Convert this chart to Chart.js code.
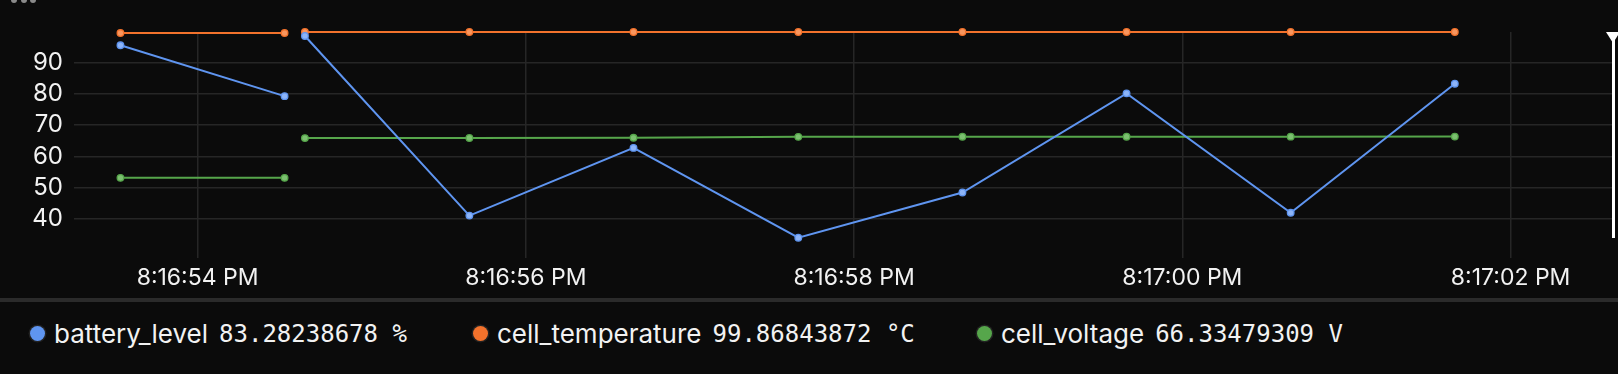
<!DOCTYPE html>
<html>
<head>
<meta charset="utf-8">
<script src="https://cdn.jsdelivr.net/npm/chart.js@4/dist/chart.umd.min.js"></script>
<style>
  html, body { margin: 0; padding: 0; background: #0b0b0b; }
  body { width: 1618px; height: 374px; position: relative; overflow: hidden; font-family: Inter, "Noto Sans", sans-serif; }
  #wrap { position: absolute; left: 0; top: 0; width: 1618px; height: 300px; }
  #sep { position: absolute; left: 0; top: 298px; width: 1618px; height: 4px; background: #2b2b2b; }
  .legend-item { position: absolute; top: 318px; display: flex; align-items: center; color: #f2f2f2; font-size: 26px; white-space: nowrap; }
  .legend-item .dot { width: 15px; height: 15px; border-radius: 50%; margin-right: 9px; box-shadow: 0 0 0 1.5px #222; }
  .legend-item .val { font-family: "DejaVu Sans Mono", monospace; font-size: 24px; margin-left: 11px; }
  .menu-dot { position: absolute; top: -3px; width: 6px; height: 6px; border-radius: 50%; background: #8a8a8a; }
  #slider-line { position: absolute; left: 1612px; top: 33px; width: 3px; height: 205px; background: #fff; }
  #slider-head { position: absolute; left: 1606px; top: 32px; width: 0; height: 0; border-left: 7px solid transparent; border-right: 7px solid transparent; border-top: 11px solid #fff; }
</style>
</head>
<body>
<div class="menu-dot" style="left:11px"></div>
<div class="menu-dot" style="left:21px"></div>
<div class="menu-dot" style="left:30px"></div>
<div id="wrap"><canvas id="chart"></canvas></div>
<div id="slider-line"></div>
<div id="slider-head"></div>
<div id="sep"></div>
<div id="legend"></div>
<script>
// seconds after 8:16:00 PM; the null row breaks the lines like in the source
const times = [53.53, 54.53, 54.6, 54.654, 55.656, 56.656, 57.66, 58.66, 59.66, 60.66, 61.66];
const batteryLevel = [95.6, 79.3, null, 98.6, 41.0, 62.7, 33.9, 48.4, 80.2, 41.9, 83.28238678];
const cellTemperature = [99.54, 99.54, null, 99.87, 99.87, 99.87, 99.87, 99.87, 99.87, 99.87, 99.86843872];
const cellVoltage = [53.1, 53.1, null, 65.85, 65.9, 65.95, 66.25, 66.28, 66.3, 66.32, 66.33479309];

const xTickSeconds = [54, 56, 58, 60, 62];
const xTickLabels = ["8:16:54 PM", "8:16:56 PM", "8:16:58 PM", "8:17:00 PM", "8:17:02 PM"];
const yTicks = [40, 50, 60, 70, 80, 90];

const seriesNames = ["battery_level", "cell_temperature", "cell_voltage"];
const seriesUnits = ["%", "°C", "V"];
const seriesColors = ["#5f95f0", "#f2722c", "#56a64b"];
const pointFills = ["#8db4f7", "#f8965e", "#7cc070"];
const seriesData = [batteryLevel, cellTemperature, cellVoltage];

function toPoints(values) {
  return values.map((v, i) => ({ x: times[i], y: v }));
}

const datasets = seriesNames.map((name, i) => ({
  label: name,
  data: toPoints(seriesData[i]),
  borderColor: seriesColors[i],
  backgroundColor: pointFills[i],
  pointBackgroundColor: pointFills[i],
  pointBorderColor: seriesColors[i],
  pointBorderWidth: 1.3,
  pointRadius: 3.3,
  borderWidth: 2,
  spanGaps: false,
  clip: false,
}));

const tickFont = { family: "Inter, 'Noto Sans', sans-serif", size: 23 };

new Chart(document.getElementById("chart"), {
  type: "line",
  data: { datasets },
  options: {
    responsive: true,
    maintainAspectRatio: false,
    animation: false,
    layout: { padding: { top: 32, left: 0, right: 0, bottom: 0 } },
    plugins: { legend: { display: false }, tooltip: { enabled: false } },
    scales: {
      x: {
        type: "linear",
        min: 53.247,
        max: 62.622,
        afterBuildTicks: (scale) => {
          scale.ticks = xTickSeconds.map((v) => ({ value: v }));
        },
        afterFit: (scale) => {
          scale.height = 42;
        },
        ticks: {
          color: "#f2f2f2",
          font: tickFont,
          padding: 6,
          maxRotation: 0,
          autoSkip: false,
          callback: (value, index) => xTickLabels[index],
        },
        grid: { color: "#262626", lineWidth: 1.5, drawTicks: false },
        border: { display: false },
      },
      y: {
        min: 27.4,
        max: 99.87,
        afterBuildTicks: (scale) => {
          scale.ticks = yTicks.map((v) => ({ value: v }));
        },
        afterFit: (scale) => {
          scale.width = 74;
        },
        ticks: {
          color: "#f2f2f2",
          font: { family: tickFont.family, size: 24 },
          padding: 11,
          callback: (value) => String(value),
        },
        grid: { color: "#262626", lineWidth: 1.5, drawTicks: false },
        border: { display: false },
      },
    },
  },
});

// legend with the latest value of each series
const legendLefts = [30, 473, 977];
const legend = document.getElementById("legend");
seriesNames.forEach((name, i) => {
  const values = seriesData[i];
  const last = values[values.length - 1];
  const item = document.createElement("div");
  item.className = "legend-item";
  item.style.left = legendLefts[i] + "px";
  item.innerHTML =
    '<span class="dot" style="background:' + seriesColors[i] + '"></span>' +
    '<span class="name">' + name + '</span>' +
    '<span class="val">' + last.toFixed(8) + " " + seriesUnits[i] + "</span>";
  legend.appendChild(item);
});
</script>
</body>
</html>
